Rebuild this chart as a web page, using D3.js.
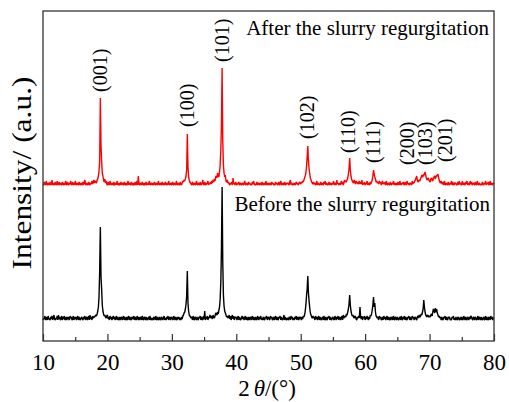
<!DOCTYPE html>
<html>
<head>
<meta charset="utf-8">
<script src="https://cdn.jsdelivr.net/npm/d3@7"></script>
<style>
  html, body { margin: 0; padding: 0; background: #fff; }
  svg text { font-family: "Liberation Serif", "Times New Roman", serif !important; fill: #000; }
</style>
</head>
<body>
<svg id="chart" width="509" height="402"></svg>
<script>
// ── XRD patterns, 2θ from 10° to 80° in 0.1° steps (one row = one degree) ──
const afterRows = [
  "1 0 3 1 0 4 1 0 2 1", "0 3 1 0 5 1 0 2 0 3", "1 0 4 0 1 3 0 2 1 0", "3 1 0 2 0 4 1 0 3 1",
  "0 2 1 4 0 1 3 0 2 0", "4 1 0 2 1 0 3 1 0 2", "1 0 3 0 2 5 1 0 2 1", "0 3 1 0 2 1 4 1 3 5",
  "2 4 3 2 5 6 9 14 24 87", "40 24 12 9 5 3 6 2 4 1", "0 3 1 0 4 1 0 2 1 0", "3 0 1 2 0 4 1 0 2 0",
  "1 3 0 2 1 0 3 1 0 2", "0 1 4 0 2 1 0 3 1 0", "2 0 1 3 0 1 4 0 9 1", "0 2 1 0 3 1 0 2 0 1",
  "3 0 1 2 0 4 1 0 2 1", "0 2 0 3 1 0 2 1 0 4", "1 0 2 1 0 3 1 0 2 0", "3 1 0 2 0 4 1 0 2 1",
  "0 3 1 0 2 1 0 4 1 0", "2 1 0 3 1 0 2 4 3 5", "4 6 9 15 51 19 8 5 3 2", "1 0 3 1 0 2 1 0 4 1",
  "0 2 1 0 3 1 0 2 5 1", "0 3 1 0 2 1 4 0 2 1", "3 1 4 2 5 3 6 4 8 9", "7 12 9 8 13 20 35 60 117 45",
  "20 12 8 10 4 3 5 2 3 1", "0 2 1 3 0 7 1 2 0 3", "1 0 2 1 3 0 1 2 0 1", "2 0 1 4 1 0 2 1 0 3",
  "1 2 0 1 0 3 1 4 0 1", "0 1 3 0 2 1 0 2 1 0", "3 1 0 2 1 0 4 1 0 2", "1 0 2 1 0 3 1 2 0 1",
  "0 3 1 2 0 1 3 0 1 4", "1 0 2 1 0 3 1 0 2 1", "2 1 0 3 5 0 2 1 0 1", "2 0 1 3 1 2 0 1 3 2",
  "1 3 2 4 3 5 7 9 12 18", "28 39 24 16 11 7 5 3 2 1", "3 1 2 0 1 4 0 2 1 0", "1 3 0 2 1 0 3 1 4 0",
  "2 1 0 1 3 0 2 1 0 2", "1 4 0 2 1 0 5 1 2 0", "1 2 0 4 1 3 0 2 5 3", "4 3 5 7 11 16 27 15 9 6",
  "4 3 2 5 3 1 4 2 3 1", "2 4 1 3 1 5 0 2 1 3", "0 2 1 4 0 2 1 0 3 1", "3 5 9 15 11 8 6 3 4 2",
  "3 1 4 2 3 0 2 4 1 2", "1 3 0 4 1 0 2 1 0 3", "1 0 2 1 4 0 2 1 0 2", "0 3 1 0 4 1 0 2 1 3",
  "1 0 3 1 0 4 1 2 0 1", "2 1 0 4 1 3 2 4 5 7", "9 5 3 4 5 4 6 8 10 8", "9 11 10 13 10 7 5 6 7 5",
  "4 3 6 7 5 4 7 8 9 6", "8 10 9 11 7 5 3 2 4 2", "1 3 0 4 1 0 2 1 0 3", "1 0 2 1 4 0 3 1 0 2",
  "2 1 0 1 3 0 4 1 2 0", "1 4 0 2 1 0 3 1 4 0", "2 1 0 4 1 3 0 1 2 1", "0 3 1 0 4 1 0 2 1 0",
  "1 0 3 1 0 2 1 4 0 2", "1 3 0 1 4 0 2 1 0 2", "1"
];
const beforeRows = [
  "0 2 1 4 0 1 3 0 4 1", "1 0 3 1 4 0 2 5 1 0", "2 1 4 0 5 1 3 0 1 4", "0 3 1 4 0 1 3 0 2 3",
  "1 0 4 2 3 0 1 4 0 3", "1 3 0 2 4 0 3 1 0 2", "3 1 0 3 1 4 0 2 3 0", "2 4 0 5 1 3 0 4 2 3",
  "3 4 5 4 6 9 13 24 50 93", "44 31 15 9 6 4 5 3 2 4", "5 1 3 0 4 1 3 0 2 4", "1 3 0 2 4 0 3 1 0 3",
  "0 2 3 0 2 4 0 3 1 0", "3 0 2 4 0 3 1 0 3 2", "1 4 0 3 1 0 4 2 0 3", "0 2 3 0 4 1 0 3 2 0",
  "3 1 0 2 3 0 4 1 0 2", "1 0 3 2 0 4 1 0 3 1", "0 3 1 0 3 2 0 2 4 0", "2 0 3 1 4 0 2 3 0 2",
  "3 1 0 4 2 0 3 1 0 3", "1 3 0 2 0 3 1 4 5 7", "8 11 16 24 49 17 9 5 4 3", "2 3 0 4 1 0 3 2 0 3",
  "1 0 3 2 4 0 3 1 0 4", "1 9 0 3 1 4 0 3 2 5", "3 2 4 1 5 3 2 4 7 6", "5 8 6 10 13 21 38 72 133 58",
  "25 14 9 7 5 3 4 2 3 5", "1 4 0 3 5 1 4 0 3 2", "3 0 2 4 0 3 1 0 2 4", "1 3 0 2 4 0 3 1 0 3",
  "0 2 3 0 2 4 0 3 1 0", "3 1 0 4 2 0 3 1 4 0", "2 0 3 1 0 3 2 4 0 2", "3 1 0 4 2 3 0 1 3 0",
  "2 4 0 3 1 0 3 2 4 0", "3 1 0 2 5 0 3 1 0 2", "1 0 3 2 0 4 1 3 0 2", "0 3 1 4 0 2 3 0 2 3",
  "2 0 3 1 4 3 5 9 15 24", "31 44 27 19 12 7 5 3 2 4", "2 3 0 4 1 3 0 2 4 0", "3 1 0 2 3 0 4 1 0 3",
  "1 0 3 2 4 0 3 1 0 2", "3 1 0 4 2 0 3 1 4 0", "2 3 0 2 4 0 5 2 3 4", "3 6 5 8 11 16 25 15 9 6",
  "4 5 3 2 4 3 1 0 3 2", "4 2 13 3 1 4 0 3 2 4", "0 3 1 4 2 0 3 1 5 4", "6 10 15 23 13 17 8 4 3 2",
  "3 0 4 2 3 0 1 3 0 4", "1 3 0 2 4 0 3 1 0 3", "0 2 3 0 4 1 0 3 2 0", "3 1 0 2 3 0 4 1 0 3",
  "1 4 0 3 1 0 3 2 4 0", "3 1 0 4 2 3 0 2 3 1", "0 3 4 2 5 3 4 6 5 8", "11 20 13 8 5 4 3 5 4 3",
  "4 3 5 6 4 8 11 9 7 12", "8 11 7 5 3 4 2 3 0 3", "1 0 3 2 4 0 3 1 0 3", "2 3 0 1 0 3 2 4 0 2",
  "0 3 1 0 3 2 0 1 3 0", "3 1 0 4 2 0 3 1 0 3", "2 0 3 1 4 3 1 0 3 2", "0 3 2 0 1 4 0 3 2 0",
  "3 1 0 2 3 0 1 4 0 3", "1 0 3 2 0 4 1 3 0 2", "2"
];

const after  = afterRows.join(" ").split(" ").map(Number);
const before = beforeRows.join(" ").split(" ").map(Number);
const twoTheta = after.map((_, i) => 10 + i * 0.1);
const afterOffset = 135;   // vertical stacking of the red pattern

// Miller indices and where their labels sit (2θ, level above red baseline)
const peakNames  = ["(001)", "(100)", "(101)", "(102)", "(110)", "(111)", "(200)", "(103)", "(201)"];
const peakTheta  = [18.85, 32.45, 37.85, 51.0, 57.4, 61.3, 66.6, 69.4, 72.45];
const peakLevel  = [93, 58, 123, 46, 32, 22, 20, 20, 23];

const majorTicks = [10, 20, 30, 40, 50, 60, 70, 80];
const minorTicks = [15, 25, 35, 45, 55, 65, 75];

// ─── layout ────────────────────────────
const W = 509, H = 402;
const M = { left: 43, right: 15, top: 11, bottom: 61 };

const svg = d3.select("#chart");

const x = d3.scaleLinear().domain([10, 80]).range([M.left, W - M.right]);
const y = d3.scaleLinear().domain([-21, 309]).range([H - M.bottom, M.top]);

// data lines
const line = offset => d3.line()
  .x((d, i) => x(twoTheta[i]))
  .y(d => y(d + offset));

svg.append("path")
  .datum(before)
  .attr("d", line(0))
  .attr("fill", "none")
  .attr("stroke", "#000")
  .attr("stroke-width", 1.4)
  .attr("stroke-linejoin", "bevel");

svg.append("path")
  .datum(after)
  .attr("d", line(afterOffset))
  .attr("fill", "none")
  .attr("stroke", "#ff0000")
  .attr("stroke-width", 1.4)
  .attr("stroke-linejoin", "bevel");

// frame
svg.append("rect")
  .attr("x", M.left).attr("y", M.top)
  .attr("width", W - M.left - M.right)
  .attr("height", H - M.top - M.bottom)
  .attr("fill", "none")
  .attr("stroke", "#333")
  .attr("stroke-width", 1.3);

// bottom axis, ticks pointing inward
const gx = svg.append("g")
  .attr("transform", `translate(0,${H - M.bottom})`)
  .call(d3.axisBottom(x).tickValues(majorTicks).tickSizeInner(-7).tickSizeOuter(0).tickPadding(13));
gx.select(".domain").remove();
gx.selectAll("line").attr("stroke", "#333").attr("stroke-width", 1.2);
gx.selectAll("text").attr("font-size", 23);

const gm = svg.append("g")
  .attr("transform", `translate(0,${H - M.bottom})`)
  .call(d3.axisBottom(x).tickValues(minorTicks).tickSizeInner(-4).tickSizeOuter(0).tickFormat(""));
gm.select(".domain").remove();
gm.selectAll("line").attr("stroke", "#333").attr("stroke-width", 1.2);

// axis titles
const xt = svg.append("text")
  .attr("x", 267).attr("y", 396)
  .attr("text-anchor", "middle")
  .attr("font-size", 23);
xt.append("tspan").text("2");
xt.append("tspan").attr("dx", 4).attr("font-style", "italic").text("θ");
xt.append("tspan").text("/(°)");

svg.append("text")
  .attr("transform", "translate(31,173) rotate(-90)")
  .attr("text-anchor", "middle")
  .attr("font-size", 28)
  .attr("textLength", 193)
  .attr("lengthAdjust", "spacingAndGlyphs")
  .text("Intensity/ (a.u.)");

// series captions
svg.append("text")
  .attr("x", 489).attr("y", 35)
  .attr("text-anchor", "end")
  .attr("font-size", 21)
  .text("After the slurry regurgitation");

svg.append("text")
  .attr("x", 490).attr("y", 211)
  .attr("text-anchor", "end")
  .attr("font-size", 21)
  .text("Before the slurry regurgitation");

// peak indices
svg.append("g")
  .selectAll("text")
  .data(peakNames)
  .join("text")
    .attr("transform", (d, i) =>
      `translate(${x(peakTheta[i])},${y(peakLevel[i] + afterOffset)}) rotate(-90)`)
    .attr("dy", "0.33em")
    .attr("font-size", 20)
    .text(d => d);
</script>
</body>
</html>
